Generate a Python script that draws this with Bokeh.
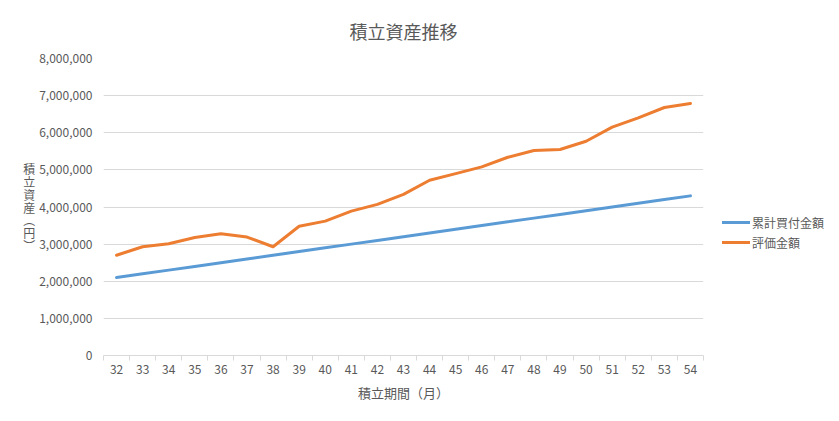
from bokeh.plotting import figure
from bokeh.models import FixedTicker, NumeralTickFormatter, Range1d, Legend, LegendItem
from bokeh.embed import file_html
from bokeh.resources import INLINE

months = [32, 33, 34, 35, 36, 37, 38, 39, 40, 41, 42, 43, 44, 45, 46, 47, 48, 49, 50, 51, 52, 53, 54]
cost = [2100000, 2200000, 2300000, 2400000, 2500000, 2600000, 2700000, 2800000, 2900000, 3000000,
        3100000, 3200000, 3300000, 3400000, 3500000, 3600000, 3700000, 3800000, 3900000, 4000000,
        4100000, 4200000, 4300000]
value = [2700000, 2930000, 3010000, 3180000, 3280000, 3190000, 2930000, 3480000, 3620000, 3890000,
         4070000, 4340000, 4720000, 4900000, 5080000, 5340000, 5520000, 5550000, 5770000, 6150000,
         6400000, 6680000, 6790000]
y_ticks = [0, 1000000, 2000000, 3000000, 4000000, 5000000, 6000000, 7000000, 8000000]
series_names = ["累計買付金額", "評価金額"]
title_text = "積立資産推移"
x_title = "積立期間（月）"
y_title = "積立資産︵円︶"

FONT = "Noto Sans CJK JP"
GRAY = "#595959"

p = figure(frame_width=600, frame_height=297, output_backend="svg", toolbar_location=None,
           min_border_left=103, min_border_right=128, min_border_top=58, min_border_bottom=58,
           x_range=Range1d(months[0] - 0.5, months[-1] + 0.5), y_range=Range1d(0, 8000000))

p.title.text = title_text
p.title.align = "center"
p.title.text_font = FONT
p.title.text_font_size = "18px"
p.title.text_font_style = "normal"
p.title.text_color = GRAY
p.title.standoff = 29

p.outline_line_color = None
p.xgrid.grid_line_color = None
p.ygrid.grid_line_color = "#d9d9d9"
p.ygrid.grid_line_width = 1

p.yaxis.ticker = FixedTicker(ticks=y_ticks)
p.yaxis.formatter = NumeralTickFormatter(format="0,0")
p.yaxis.axis_line_color = None
p.yaxis.major_tick_line_color = None
p.yaxis.minor_tick_line_color = None
p.yaxis.major_label_text_font = FONT
p.yaxis.major_label_text_font_size = "12px"
p.yaxis.major_label_text_color = GRAY
p.yaxis.major_label_standoff = 5
p.yaxis.axis_label = "\n".join(list(y_title))
p.yaxis.axis_label_orientation = "horizontal"
p.yaxis.axis_label_text_font = FONT
p.yaxis.axis_label_text_font_size = "12px"
p.yaxis.axis_label_text_font_style = "normal"
p.yaxis.axis_label_text_color = GRAY
p.yaxis.axis_label_text_line_height = 0.75
p.yaxis.axis_label_standoff = 1

p.xaxis.ticker = FixedTicker(ticks=months, minor_ticks=[m - 0.5 for m in months] + [months[-1] + 0.5])
p.xaxis.axis_line_color = "#d9d9d9"
p.xaxis.major_tick_line_color = None
p.xaxis.minor_tick_line_color = "#d9d9d9"
p.xaxis.minor_tick_in = 0
p.xaxis.minor_tick_out = 5
p.xaxis.major_label_text_font = FONT
p.xaxis.major_label_text_font_size = "12px"
p.xaxis.major_label_text_color = GRAY
p.xaxis.major_label_standoff = 3
p.xaxis.axis_label = x_title
p.xaxis.axis_label_text_font = FONT
p.xaxis.axis_label_text_font_size = "13px"
p.xaxis.axis_label_text_font_style = "normal"
p.xaxis.axis_label_text_color = GRAY
p.xaxis.axis_label_standoff = 6

r1 = p.line(months, cost, line_color="#5B9BD5", line_width=3, line_join="round", line_cap="round")
r2 = p.line(months, value, line_color="#ED7D31", line_width=3, line_join="round", line_cap="round")

legend = Legend(items=[LegendItem(label=series_names[0], renderers=[r1]),
                       LegendItem(label=series_names[1], renderers=[r2])],
                location=(19, 103), orientation="vertical")
legend.background_fill_alpha = 0
legend.border_line_color = None
legend.padding = 0
legend.margin = 0
legend.spacing = 0
legend.glyph_width = 28
legend.glyph_height = 20
legend.label_height = 20
legend.label_standoff = 2
legend.label_text_font = FONT
legend.label_text_font_size = "12px"
legend.label_text_color = GRAY
p.add_layout(legend, "right")

open("out.html", "w").write(file_html(p, INLINE))
